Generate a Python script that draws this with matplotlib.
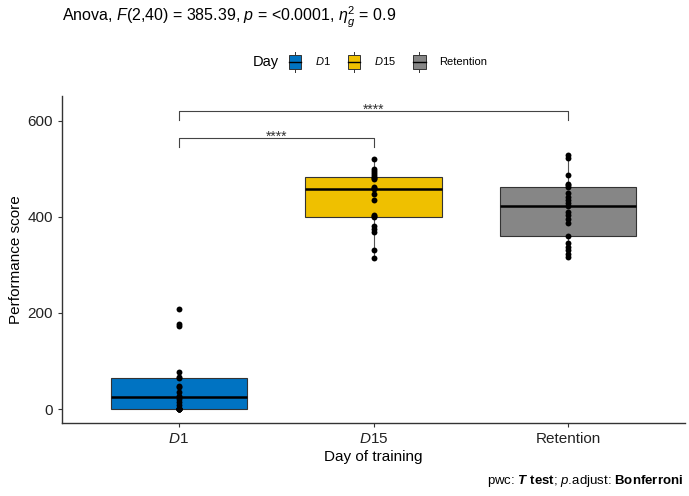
import numpy as np
import matplotlib
matplotlib.use("Agg")
import matplotlib.pyplot as plt
from matplotlib.patches import Patch, Rectangle
from matplotlib.lines import Line2D
from matplotlib.legend_handler import HandlerBase

plt.rcParams['font.family'] = ['Liberation Sans', 'DejaVu Sans']
plt.rcParams['mathtext.fontset'] = 'custom'
plt.rcParams['mathtext.rm'] = 'Liberation Sans'
plt.rcParams['mathtext.it'] = 'Liberation Sans:italic'
plt.rcParams['mathtext.bf'] = 'Liberation Sans:bold'
plt.rcParams['mathtext.bfit'] = 'Liberation Sans:italic:bold'

# data (21 subjects per day)
days = ["D1", "D15", "Retention"]
tick_labels = [r"$\mathit{D}$1", r"$\mathit{D}$15", "Retention"]
colors = ["#0073C2", "#EFC000", "#868686"]

d1 = [0, 0, 0, 1, 1, 1, 3, 8, 15, 20, 26, 28, 35, 45, 48, 65, 66, 78, 173, 176, 208]
d15 = [314, 331, 368, 375, 380, 399, 401, 403, 435, 448, 457, 459, 462, 478, 480, 483, 486, 490, 495, 500, 520]
retention = [317, 322, 331, 338, 345, 360, 386, 395, 403, 410, 423, 428, 435, 442, 450, 462, 465, 469, 487, 523, 528]

# pairwise comparisons: (group a, group b, bracket height, label)
pairs = [(1, 2, 563, "****"), (1, 3, 620, "****")]


class BoxHandler(HandlerBase):
    # draws the little boxplot glyph used in the legend
    def create_artists(self, legend, orig_handle, xdescent, ydescent,
                       width, height, fontsize, trans):
        x0, y0 = -xdescent, -ydescent
        fc = orig_handle.get_facecolor()
        r = Rectangle((x0, y0 + height * 0.18), width, height * 0.64,
                      facecolor=fc, edgecolor="#333333", lw=0.7, transform=trans)
        m = Line2D([x0, x0 + width], [y0 + height * 0.5] * 2,
                   color="black", lw=1.0, transform=trans)
        w1 = Line2D([x0 + width / 2] * 2, [y0, y0 + height * 0.18],
                    color="#333333", lw=0.7, transform=trans)
        w2 = Line2D([x0 + width / 2] * 2, [y0 + height * 0.82, y0 + height],
                    color="#333333", lw=0.7, transform=trans)
        return [r, m, w1, w2]


fig = plt.figure(figsize=(6.89, 4.96), dpi=100)
ax = fig.add_axes([62 / 689, 1 - 423 / 496, (685 - 62) / 689, (423 - 96) / 496])

data = [d1, d15, retention]
bp = ax.boxplot(data, positions=[1, 2, 3], widths=0.7, patch_artist=True,
                showfliers=False, showcaps=False,
                medianprops=dict(color="black", lw=1.8),
                boxprops=dict(edgecolor="#333333", lw=0.8),
                whiskerprops=dict(color="#555555", lw=0.8))
for patch, c in zip(bp["boxes"], colors):
    patch.set_facecolor(c)

for i, vals in enumerate(data):
    ax.scatter([i + 1] * len(vals), vals, s=18, color="black", zorder=3, linewidths=0)

# significance brackets
for a, b, h, lab in pairs:
    ax.plot([a, a, b, b], [h - 18, h, h, h - 18], color="#444444", lw=0.8)
    ax.text((a + b) / 2, h - 6, lab, ha="center", va="baseline", fontsize=10, color="#333333")

ax.set_xlim(0.4, 3.6)
ax.set_ylim(-29, 651)
ax.set_xticks([1, 2, 3])
ax.set_xticklabels(tick_labels)
ax.set_yticks([0, 200, 400, 600])
ax.tick_params(labelsize=11, length=3, color="#333333", labelcolor="#222222")
ax.set_xlabel("Day of training", fontsize=11, labelpad=3)
ax.set_ylabel("Performance score", fontsize=11, labelpad=3)
for s in ["top", "right"]:
    ax.spines[s].set_visible(False)
for s in ["left", "bottom"]:
    ax.spines[s].set_color("#333333")
    ax.spines[s].set_linewidth(1.0)

fig.text(62 / 689, 1 - 17 / 496,
         r"Anova, $\mathit{F}$(2,40) = 385.39, $\mathit{p}$ = <0.0001, $\eta^2_g$ = 0.9",
         fontsize=11.5, va="center", ha="left")

# legend
fig.text(253 / 689, 1 - 62 / 496, "Day", fontsize=10.5, va="center", ha="left")
handles = [Patch(facecolor=c) for c in colors]
fig.legend(handles, tick_labels, handler_map={Patch: BoxHandler()},
           loc="center left", bbox_to_anchor=(289 / 689, 1 - 62 / 496),
           ncol=3, frameon=False, fontsize=8, handlelength=1.1, handleheight=2.5,
           handletextpad=1.2, columnspacing=1.6, borderpad=0, borderaxespad=0)

fig.text(683 / 689, 1 - 481 / 496,
         r"pwc: $\mathbfit{T}$ $\mathbf{test}$; $\mathit{p}$.adjust: $\mathbf{Bonferroni}$",
         fontsize=9.5, va="center", ha="right")

fig.savefig("out.png", dpi=100)
